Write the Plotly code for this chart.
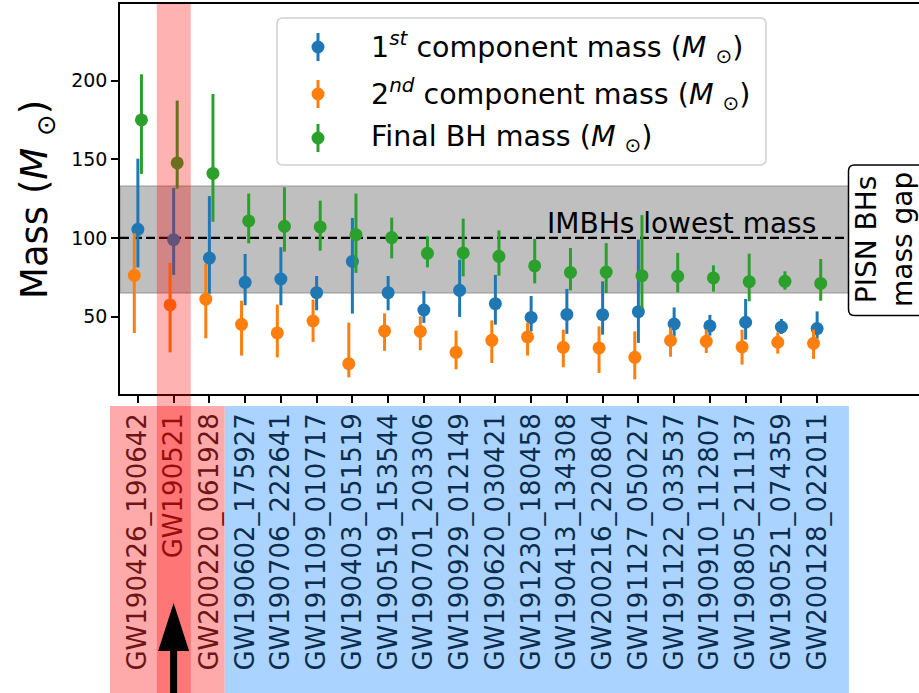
import plotly.graph_objects as go

# ---------------- data ----------------
events = ["GW190426_190642", "GW190521", "GW200220_061928", "GW190602_175927",
          "GW190706_222641", "GW191109_010717", "GW190403_051519", "GW190519_153544",
          "GW190701_203306", "GW190929_012149", "GW190620_030421", "GW191230_180458",
          "GW190413_134308", "GW200216_220804", "GW191127_050227", "GW191122_033537",
          "GW190910_112807", "GW190805_211137", "GW190521_074359", "GW200128_022011"]

m1 = [105.5, 98.9, 87.2, 71.8, 73.9, 65.2, 85.1, 65.2, 54.2, 66.7,
      58.2, 49.5, 51.4, 51.2, 53.1, 45.3, 44.1, 46.4, 43.4, 42.4]
m1_plus = [44.9, 32.9, 39.4, 18.0, 20.2, 10.6, 27.6, 10.6, 12.1, 19.5,
           18.3, 13.6, 16.2, 21.2, 45.9, 10.5, 7.0, 14.8, 5.1, 10.9]
m1_minus = [24.2, 22.4, 22.7, 14.6, 16.7, 11.2, 33.2, 11.2, 8.2, 16.9,
            13.3, 8.9, 12.4, 12.7, 19.8, 7.8, 6.2, 11.0, 4.4, 6.4]

m2 = [76.2, 57.4, 61.1, 45.1, 39.6, 47.2, 20.1, 40.9, 40.6, 27.3,
      34.9, 37.1, 30.5, 30.1, 24.1, 34.8, 34.3, 30.7, 33.7, 33.0]
m2_plus = [26.8, 26.7, 22.4, 15.0, 18.0, 13.6, 26.1, 11.2, 9.6, 13.8,
           12.7, 8.9, 11.2, 13.7, 16.5, 8.2, 7.4, 11.0, 6.3, 8.7]
m2_minus = [36.6, 30.1, 24.9, 19.9, 15.5, 13.3, 8.7, 12.7, 12.0, 10.8,
            14.4, 11.9, 12.7, 15.9, 14.0, 10.3, 7.4, 11.2, 7.2, 9.9]

mf = [175.0, 147.7, 141.0, 110.8, 107.4, 107.0, 102.1, 100.2, 90.2, 90.5,
      88.3, 82.2, 78.1, 78.3, 76.0, 75.6, 74.6, 72.2, 72.4, 71.1]
mf_plus = [29.0, 39.6, 50.5, 17.4, 24.8, 16.7, 26.1, 12.7, 10.8, 21.8,
           16.5, 17.2, 15.5, 18.4, 38.5, 14.9, 8.0, 17.8, 6.4, 15.5]
mf_minus = [34.3, 16.4, 30.7, 14.2, 16.1, 15.1, 24.3, 13.2, 8.9, 14.9,
            12.3, 11.1, 11.4, 13.3, 20.7, 10.2, 8.7, 12.5, 5.3, 11.0]

series_names = ["1<sup><i>st</i></sup> component mass (<i>M</i> <sub>⊙</sub>)",
                "2<sup><i>nd</i></sup> component mass (<i>M</i> <sub>⊙</sub>)",
                "Final BH mass (<i>M</i> <sub>⊙</sub>)"]
colors = ["#1f77b4", "#ff7f0e", "#2ca02c"]
dodge = [0.0, -0.1, 0.1]

pisn_gap = [65, 133]
imbh_lowest = 100
n_red = 3            # events shaded red in label area
highlight = 1        # GW190521

# ---------------- layout geometry ----------------
W, H = 919, 693
L, R, T, B = 120, 919, 4, 394
cat_px = 35.75
x0 = -0.5
x1 = x0 + (R - L) / cat_px
y_range = [0.8, 248.7]
FONT = "DejaVu Sans"


def px_x(p):
    return (p - L) / (R - L)


def px_y(p):
    return (B - p) / (B - T)


def dx(v):
    return (v - x0) / (x1 - x0)


def rounded(xa, xb, ya, yb, rr):
    return (f"M {px_x(xa+rr)},{px_y(ya)} L {px_x(xb-rr)},{px_y(ya)} "
            f"Q {px_x(xb)},{px_y(ya)} {px_x(xb)},{px_y(ya+rr)} "
            f"L {px_x(xb)},{px_y(yb-rr)} Q {px_x(xb)},{px_y(yb)} {px_x(xb-rr)},{px_y(yb)} "
            f"L {px_x(xa+rr)},{px_y(yb)} Q {px_x(xa)},{px_y(yb)} {px_x(xa)},{px_y(yb-rr)} "
            f"L {px_x(xa)},{px_y(ya+rr)} Q {px_x(xa)},{px_y(ya)} {px_x(xa+rr)},{px_y(ya)} Z")


idx = list(range(len(events)))
fig = go.Figure()
for vals, plus, minus, c, d, nm in [(m1, m1_plus, m1_minus, colors[0], dodge[0], series_names[0]),
                                    (m2, m2_plus, m2_minus, colors[1], dodge[1], series_names[1]),
                                    (mf, mf_plus, mf_minus, colors[2], dodge[2], series_names[2])]:
    fig.add_trace(go.Scatter(
        x=[i + d for i in idx], y=vals, mode="markers", name=nm,
        marker=dict(color=c, size=13),
        error_y=dict(type="data", symmetric=False, array=plus, arrayminus=minus,
                     color=c, thickness=3, width=0),
        showlegend=False, cliponaxis=False))

shapes = []
# PISN gap band
shapes.append(dict(type="rect", xref="paper", yref="y", x0=0, x1=1,
                   y0=pisn_gap[0], y1=pisn_gap[1], layer="below",
                   fillcolor="rgba(128,128,128,0.5)",
                   line=dict(color="rgba(128,128,128,0.5)", width=1.5)))
# IMBH dashed line
shapes.append(dict(type="line", xref="paper", yref="y", x0=0, x1=1,
                   y0=imbh_lowest, y1=imbh_lowest, layer="below",
                   line=dict(color="black", width=2.3, dash="9px,4px")))
# label backgrounds
lab_top = px_y(406)
lab_bot = px_y(700)
shapes.append(dict(type="rect", xref="paper", yref="paper",
                   x0=dx(-0.78), x1=dx(n_red - 0.57), y0=lab_bot, y1=lab_top,
                   fillcolor="#ffaaaa", line=dict(width=0), layer="below"))
shapes.append(dict(type="rect", xref="paper", yref="paper",
                   x0=dx(n_red - 0.57), x1=dx(len(events) - 0.11), y0=lab_bot, y1=lab_top,
                   fillcolor="#aad4ff", line=dict(width=0), layer="below"))
# highlighted span (above everything)
shapes.append(dict(type="rect", xref="paper", yref="paper",
                   x0=dx(highlight - 0.47), x1=dx(highlight + 0.48), y0=lab_bot, y1=1,
                   fillcolor="rgba(255,0,0,0.3)", line=dict(width=0), layer="above"))
# arrow
ax = L + (highlight - x0) * cat_px
tip, base, bottom = 603, 651, 700
hw, sw = 15.5, 3.5
pts = [(ax, tip), (ax + hw, base), (ax + sw, base), (ax + sw, bottom),
       (ax - sw, bottom), (ax - sw, base), (ax - hw, base)]
path = "M " + " L ".join(f"{px_x(a):.5f},{px_y(b):.5f}" for a, b in pts) + " Z"
shapes.append(dict(type="path", xref="paper", yref="paper", path=path,
                   fillcolor="black", line=dict(width=0), layer="above"))

# PISN box (rounded)
shapes.append(dict(type="path", xref="paper", yref="paper", path=rounded(848.5, 935, 165, 315.5, 6),
                   fillcolor="white", line=dict(color="black", width=1.5), layer="above"))

# manual legend box (rounded)
shapes.append(dict(type="path", xref="paper", yref="paper", path=rounded(277, 766, 18, 165, 6),
                   fillcolor="rgba(255,255,255,0.8)", line=dict(color="#d0d0d0", width=1.5),
                   layer="above"))
annotations = []
rows = [47, 94, 138]
for ry, c, nm in zip(rows, colors, series_names):
    shapes.append(dict(type="line", xref="paper", yref="paper",
                       x0=px_x(318), x1=px_x(318), y0=px_y(ry - 14), y1=px_y(ry + 14),
                       line=dict(color=c, width=3), layer="above"))
    shapes.append(dict(type="circle", xref="paper", yref="paper",
                       x0=px_x(318 - 6.5), x1=px_x(318 + 6.5), y0=px_y(ry - 6.5), y1=px_y(ry + 6.5),
                       fillcolor=c, line=dict(width=0), layer="above"))
    annotations.append(dict(xref="paper", yref="paper", x=px_x(369), y=px_y(ry),
                            xanchor="left", yanchor="middle", showarrow=False, text=nm,
                            font=dict(family=FONT, size=28.5, color="black")))

annotations.append(dict(xref="x", yref="y", x=15.2, y=imbh_lowest, xanchor="center",
                        yanchor="bottom", yshift=-4, showarrow=False, text="IMBHs lowest mass",
                        font=dict(family=FONT, size=28, color="black")))
annotations.append(dict(xref="paper", yref="paper", x=px_x(884), y=px_y(240), xanchor="center",
                        yanchor="middle", showarrow=False, textangle=-90,
                        text="PISN BHs<br>mass gap",
                        font=dict(family=FONT, size=28, color="black")))
annotations.append(dict(xref="paper", yref="paper", x=px_x(37), y=px_y(200), xanchor="center",
                        yanchor="middle", showarrow=False, textangle=-90,
                        text="Mass (<i>M</i> <sub>⊙</sub>)",
                        font=dict(family=FONT, size=37, color="black")))

ticktext = [f'<span style="color:{"#6e1414" if i < n_red else "#0c2d4e"}">{e}</span>'
            for i, e in enumerate(events)]

fig.update_layout(
    width=W, height=H, margin=dict(l=L, r=W - R, t=T, b=H - B),
    paper_bgcolor="white", plot_bgcolor="rgba(0,0,0,0)",
    shapes=shapes, annotations=annotations, showlegend=False,
    xaxis=dict(range=[x0, x1], tickmode="array", tickvals=idx, ticktext=ticktext,
               tickangle=-90, ticks="outside", ticklen=7, tickwidth=1.6, tickcolor="black",
               showline=True, linecolor="black", linewidth=1.6, mirror=True,
               showgrid=False, zeroline=False,
               tickfont=dict(family=FONT, size=26, color="black")),
    yaxis=dict(range=y_range, tickvals=[50, 100, 150, 200], ticks="outside", ticklen=7,
               tickwidth=1.6, tickcolor="black", showline=True, linecolor="black",
               linewidth=1.6, mirror=False, showgrid=False, zeroline=False,
               tickfont=dict(family=FONT, size=19, color="black")),
)
fig.write_html("out.html")
